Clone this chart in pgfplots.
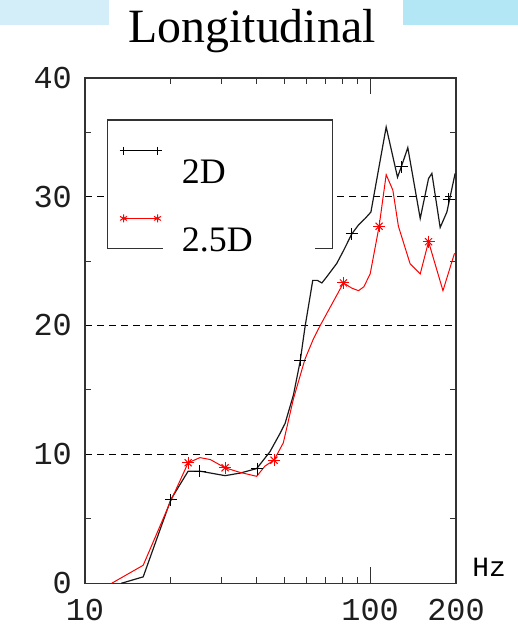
\documentclass[border=0pt]{standalone}
\usepackage{fontspec}
\setmainfont{Liberation Serif}
\setmonofont{Liberation Mono}
\usepackage{pgfplots}
\pgfplotsset{compat=1.18}
\definecolor{barL}{RGB}{211,237,249}
\definecolor{barR}{RGB}{179,231,246}
\definecolor{frame}{RGB}{50,50,50}
\definecolor{tl}{RGB}{30,30,30}
\begin{document}
\begin{tikzpicture}
\useasboundingbox (-85bp,-42.7bp) rectangle (433bp,583.3bp);
\fill[barL] (-85bp,558.3bp) rectangle (24bp,583.3bp);
\fill[barR] (318bp,558.3bp) rectangle (433bp,583.3bp);
\node[font=\fontsize{48}{48}\selectfont, anchor=base] at (167bp,540.3bp) {Longitudinal};
\begin{axis}[
  at={(0,0)}, anchor=south west,
  scale only axis, width=371bp, height=505.3bp,
  xmode=log, xmin=10, xmax=200, ymin=0, ymax=39.2,
  axis line style={line width=1.5bp, draw=frame},
  xtick={10,100,200}, xticklabels={10,100,200},
  minor xtick={20,30,40,50,60,70,80,90},
  ytick={0,10,20,30,39.2}, yticklabels={0,10,20,30,40},
  minor ytick={5,15,25,35},
  tick align=inside,
  major tick length=16bp, minor tick length=6bp,
  tick style={line width=1bp, draw=frame},
  major y tick style={draw=none},
  ymajorgrids,
  major grid style={black, line width=1bp, dash pattern=on 7bp off 5bp},
  xticklabel style={font=\ttfamily\fontsize{32}{32}\selectfont, text=tl, inner sep=0pt, yshift=-16bp},
  yticklabel style={font=\ttfamily\fontsize{32}{32}\selectfont, text=tl, inner sep=0pt, xshift=-13bp},
  legend image code/.code={\draw[#1, mark size=4bp, line width=1bp] plot coordinates {(0bp,33bp) (34bp,33bp)};},
  legend style={at={(rel axis cs:0.0925,0.864)}, anchor=north west, draw=none, fill=none,
    inner sep=0pt, row sep=29bp, font=\fontsize{36}{36}\selectfont,
    nodes={inner sep=0pt, anchor=base west},
    /tikz/every odd column/.append style={column sep=20.4bp}},
  legend cell align=left,
]
\addplot[black!90, line width=1.2bp, forget plot] coordinates {
(13.4,0) (16.0,0.5) (20,6.5) (23.0,8.7) (25.3,8.7) (31,8.35) (35,8.55) (40,8.9)
(44.5,10.2) (48.5,11.7) (50.3,12.4) (53.8,14.6) (56.8,17.2) (59.1,19.9) (62.9,23.5)
(65.3,23.5) (67.7,23.3) (70,23.7) (76.3,24.8) (80.6,25.8) (86.2,27.1) (91,27.8)
(96,28.3) (100.6,28.8) (113.8,35.4) (124.7,31.5) (129,32.4) (135.5,33.8) (149.8,28.3)
(160.2,31.4) (164.6,31.8) (176,27.6) (185.8,28.8) (188.3,29.4) (198.6,31.8)
};
\addplot[red, line width=1bp, forget plot] coordinates {
(12.4,0) (16.0,1.4) (20,6.4) (23,9.35) (25.3,9.75) (27.5,9.6) (31,8.96) (35,8.6)
(40,8.3) (42.8,9.1) (46,9.55) (49.6,10.9) (53.8,14.3) (59.1,17.4) (63.2,18.95)
(66.8,20.0) (80.6,23.3) (86.2,22.9) (91,22.7) (95,23.0) (100,24.0) (107.5,27.7)
(113.8,31.7) (120.1,30.5) (125.6,27.7) (138,24.8) (149.8,24.0) (160.2,26.5)
(180,22.7) (197.6,25.6)
};
\addplot[only marks, black, mark=+, mark size=6bp, line width=1bp, forget plot] coordinates {
(20,6.5) (25.3,8.7) (40.2,8.9) (56.8,17.3) (86.2,27.1) (129,32.3) (188.3,29.8)
};
\addplot[only marks, red, mark=+, mark size=6bp, line width=1bp, forget plot] coordinates {
(23,9.35) (31,8.96) (46,9.55) (80.6,23.3) (107.5,27.7) (160.2,26.5)
};
\addplot[only marks, red, mark=x, mark size=5bp, line width=1bp, forget plot] coordinates {
(23,9.35) (31,8.96) (46,9.55) (80.6,23.3) (107.5,27.7) (160.2,26.5)
};
\fill[white] (rel axis cs:0.0601,0.663) rectangle (rel axis cs:0.6666,0.9169);
\draw[frame, line width=1.5bp] (rel axis cs:0.2102,0.663) -- (rel axis cs:0.0601,0.663)
  -- (rel axis cs:0.0601,0.9169) -- (rel axis cs:0.6666,0.9169) -- (rel axis cs:0.6666,0.663)
  -- (rel axis cs:0.6199,0.663);
\addlegendimage{black, mark=+}
\addlegendentry{2D}
\addlegendimage{red, mark=asterisk}
\addlegendentry{2.5D}
\end{axis}
\node[font=\ttfamily\fontsize{28}{28}\selectfont] at (404bp,16.3bp) {Hz};
\end{tikzpicture}
\end{document}
